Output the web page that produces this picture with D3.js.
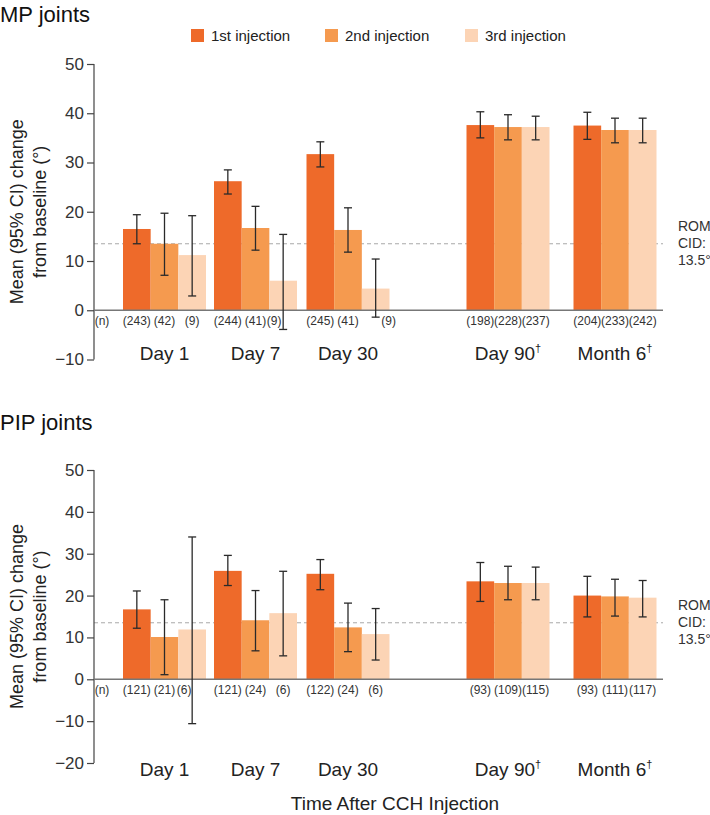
<!DOCTYPE html>
<html>
<head>
<meta charset="utf-8">
<script src="https://cdn.jsdelivr.net/npm/d3@7"></script>
<style>
  body { margin: 0; background: #fff; }
  svg { font-family: "Liberation Sans", Arial, sans-serif; }
</style>
</head>
<body>
<svg width="710" height="815"></svg>
<script>
// categories
var groups = ["Day 1", "Day 7", "Day 30", "Day 90", "Month 6"];
var dagger = [false, false, false, true, true];
var series = ["1st injection", "2nd injection", "3rd injection"];
var colors = ["#ee6a2a", "#f59a4f", "#fcd4b5"];
var ticks_mp = [-10, 0, 10, 20, 30, 40, 50];
var ticks_pip = [-20, -10, 0, 10, 20, 30, 40, 50];
var rom_cid = 13.5;

// MP joints
var mp_mean = [[16.5, 13.5, 11.2], [26.2, 16.7, 6.0], [31.7, 16.3, 4.4], [37.6, 37.2, 37.2], [37.5, 36.6, 36.6]];
var mp_low  = [[13.5, 7.1, 2.9], [23.6, 12.2, -3.9], [29.1, 11.8, -1.4], [35.0, 34.6, 34.6], [34.7, 34.0, 34.0]];
var mp_high = [[19.4, 19.7, 19.2], [28.5, 21.1, 15.4], [34.2, 20.8, 10.4], [40.3, 39.7, 39.4], [40.2, 39.0, 39.0]];
var mp_n    = [[243, 42, 9], [244, 41, 9], [245, 41, 9], [198, 228, 237], [204, 233, 242]];

// PIP joints
var pip_mean = [[16.7, 10.1, 11.9], [25.9, 14.1, 15.8], [25.2, 12.4, 10.8], [23.4, 23.0, 23.0], [20.0, 19.8, 19.5]];
var pip_low  = [[12.2, 1.1, -10.6], [22.4, 6.8, 5.6], [21.4, 6.6, 4.6], [18.6, 19.0, 19.0], [14.9, 15.1, 14.9]];
var pip_high = [[21.1, 19.0, 34.0], [29.6, 21.2, 25.8], [28.6, 18.2, 16.9], [27.9, 27.0, 26.8], [24.6, 23.9, 23.6]];
var pip_n    = [[121, 21, 6], [121, 24, 6], [122, 24, 6], [93, 109, 115], [93, 111, 117]];

var svg = d3.select("svg");
var axis_x = 94, axis_end = 663;

// group centres are not evenly spaced in the original figure
var xgroup = d3.scaleOrdinal().domain(groups).range([164.5, 255.5, 348, 508, 615]);
var xbar = d3.scaleBand().domain(series).range([-41.5, 41.5]);

// legend
var legend = svg.append("g").attr("transform", "translate(191,29)");
var lx = [0, 134, 274];
series.forEach(function (s, i) {
    legend.append("rect").attr("x", lx[i]).attr("y", 0).attr("width", 13).attr("height", 13).attr("fill", colors[i]);
    legend.append("text").attr("x", lx[i] + 20).attr("y", 12).attr("font-size", 15).attr("fill", "#222").text(s);
});

function draw_panel(opt) {
    var yscale = d3.scaleLinear().domain(opt.domain).range(opt.range);
    var g = svg.append("g");
    var y0 = yscale(0);

    g.append("text").attr("x", 0).attr("y", opt.titleY).attr("font-size", 22).attr("fill", "#111").text(opt.title);

    // y axis title
    var mid = (opt.range[0] + opt.range[1]) / 2;
    var yt = g.append("text").attr("transform", "translate(23," + mid + ") rotate(-90)")
        .attr("text-anchor", "middle").attr("font-size", 18).attr("fill", "#222");
    yt.append("tspan").attr("x", 0).attr("dy", 0).text("Mean (95% CI) change");
    yt.append("tspan").attr("x", 0).attr("dy", 23).text("from baseline (°)");

    // dashed CID line (behind bars)
    g.append("line").attr("x1", axis_x).attr("x2", axis_end)
        .attr("y1", yscale(rom_cid)).attr("y2", yscale(rom_cid))
        .attr("stroke", "#a8a8a8").attr("stroke-width", 1).attr("stroke-dasharray", "4,3");
    var cid = g.append("text").attr("x", 678).attr("y", yscale(rom_cid) - 13)
        .attr("font-size", 14).attr("fill", "#333");
    ["ROM", "CID:", "13.5°"].forEach(function (t, i) {
        cid.append("tspan").attr("x", 678).attr("dy", i == 0 ? 0 : 17).text(t);
    });

    // bars
    var rows = [];
    groups.forEach(function (grp, gi) {
        series.forEach(function (s, si) {
            rows.push({ grp: grp, s: s, si: si, mean: opt.mean[gi][si], low: opt.low[gi][si], high: opt.high[gi][si], n: opt.n[gi][si] });
        });
    });
    var cx = function (d) { return xgroup(d.grp) + xbar(d.s) + xbar.bandwidth() / 2; };

    g.selectAll("rect.bar").data(rows).enter().append("rect").attr("class", "bar")
        .attr("x", function (d) { return xgroup(d.grp) + xbar(d.s); })
        .attr("width", xbar.bandwidth())
        .attr("y", function (d) { return yscale(Math.max(0, d.mean)); })
        .attr("height", function (d) { return Math.abs(yscale(d.mean) - y0); })
        .attr("fill", function (d) { return colors[d.si]; });

    // axes
    var yAxis = d3.axisLeft(yscale).tickValues(opt.ticks).tickSize(7).tickPadding(3)
        .tickFormat(function (d) { return d < 0 ? "\u2212" + Math.abs(d) : d; });
    var ax = g.append("g").attr("transform", "translate(" + axis_x + ",0)").call(yAxis);
    ax.select(".domain").attr("stroke", "#444").attr("stroke-width", 1.2).attr("d", "M0," + opt.range[0] + "V" + opt.range[1]);
    ax.selectAll(".tick line").attr("stroke", "#444").attr("stroke-width", 1.2);
    ax.selectAll(".tick text").attr("font-size", 17).attr("fill", "#333").attr("font-family", "Liberation Sans, Arial, sans-serif");

    g.append("line").attr("x1", axis_x).attr("x2", axis_end).attr("y1", y0).attr("y2", y0)
        .attr("stroke", "#777").attr("stroke-width", 1.5);

    // error bars
    var eb = g.selectAll("g.err").data(rows).enter().append("g").attr("class", "err")
        .attr("stroke", "#2a2a2a").attr("stroke-width", 1.3);
    eb.append("line").attr("x1", cx).attr("x2", cx)
        .attr("y1", function (d) { return yscale(d.low); }).attr("y2", function (d) { return yscale(d.high); });
    eb.append("line").attr("x1", function (d) { return cx(d) - 4; }).attr("x2", function (d) { return cx(d) + 4; })
        .attr("y1", function (d) { return yscale(d.high); }).attr("y2", function (d) { return yscale(d.high); });
    eb.append("line").attr("x1", function (d) { return cx(d) - 4; }).attr("x2", function (d) { return cx(d) + 4; })
        .attr("y1", function (d) { return yscale(d.low); }).attr("y2", function (d) { return yscale(d.low); });

    // n labels (nudged sideways where an error bar crosses them)
    var nudge = opt.nudge || {};
    g.append("text").attr("x", 102).attr("y", y0 + 15).attr("text-anchor", "middle")
        .attr("font-size", 12).attr("fill", "#333").text("(n)");
    g.selectAll("text.n").data(rows).enter().append("text").attr("class", "n")
        .attr("x", function (d) { return cx(d) + (nudge[d.grp + "|" + d.si] || 0); })
        .attr("y", y0 + 15).attr("text-anchor", "middle")
        .attr("font-size", 12).attr("fill", "#333")
        .text(function (d) { return "(" + d.n + ")"; });

    // group labels
    groups.forEach(function (grp, gi) {
        var t = g.append("text").attr("x", xgroup(grp)).attr("y", opt.dayY).attr("text-anchor", "middle")
            .attr("font-size", 19).attr("fill", "#222");
        t.append("tspan").text(grp);
        if (dagger[gi]) t.append("tspan").attr("font-size", 11).attr("dy", -8).text("†");
    });
}

draw_panel({ title: "MP joints", titleY: 22, domain: [-10, 50], range: [359.5, 64], ticks: ticks_mp,
    mean: mp_mean, low: mp_low, high: mp_high, n: mp_n, dayY: 360,
    nudge: { "Day 7|2": -9, "Day 30|2": 13 } });
draw_panel({ title: "PIP joints", titleY: 430, domain: [-20, 50], range: [763, 470], ticks: ticks_pip,
    mean: pip_mean, low: pip_low, high: pip_high, n: pip_n, dayY: 776,
    nudge: { "Day 1|2": -8 } });

svg.append("text").attr("x", 395).attr("y", 810).attr("text-anchor", "middle")
    .attr("font-size", 19).attr("fill", "#222").text("Time After CCH Injection");
</script>
</body>
</html>
